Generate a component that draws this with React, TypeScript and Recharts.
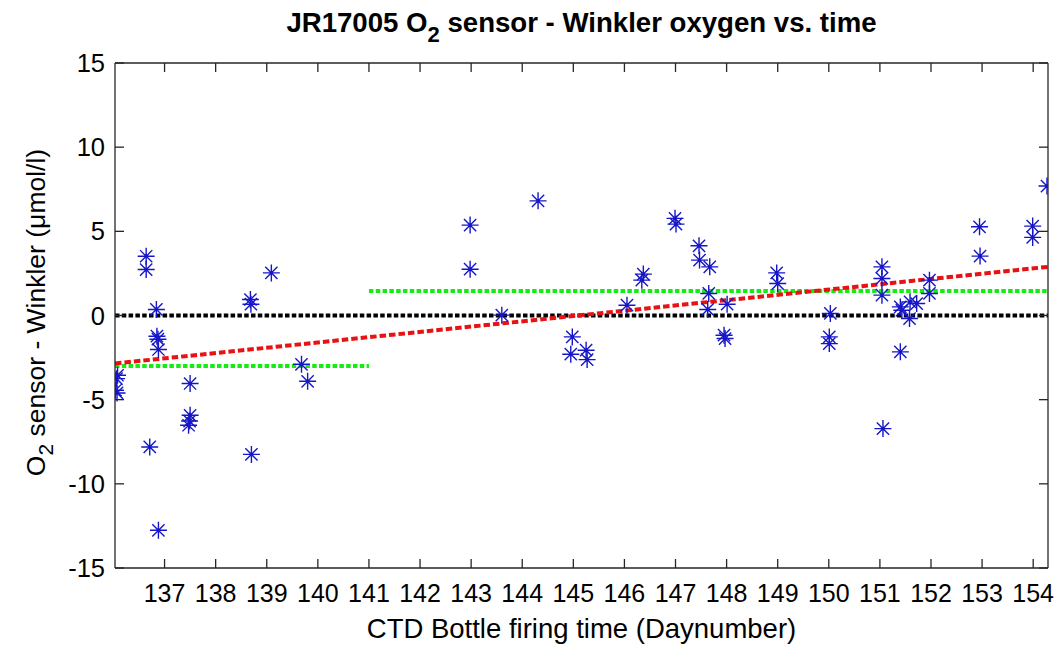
import React from "react";
import {
  ComposedChart,
  Scatter,
  XAxis,
  YAxis,
  ReferenceLine,
} from "recharts";

// Bottle firing time (day number) for each CTD sample
const sampleDay = [
  136.04, 136.07, 136.08, 136.06, 136.64, 136.64, 136.71, 136.84, 136.85, 136.87,
  136.88, 136.88, 137.5, 137.5, 137.49, 137.47, 138.68, 138.69, 138.7, 139.09,
  139.68, 139.8, 142.98, 142.98, 143.6, 144.31, 144.98, 144.95, 145.25, 145.27,
  146.05, 146.37, 146.34, 146.99, 147.01, 147.46, 147.47, 147.67, 147.65, 147.63,
  148.01, 147.95, 147.97, 148.98, 149.0, 150.03, 150.01, 150.01, 151.04, 151.04,
  151.04, 151.06, 151.4, 151.4, 151.43, 151.59, 151.58, 151.72, 151.97, 151.97,
  152.95, 152.96, 153.99, 153.99, 154.27,
];

// O2 sensor minus Winkler oxygen (umol/l)
const sensorMinusWinkler = [
  -4.44, -4.6, -3.55, -3.75, 3.52, 2.73, -7.81, 0.36, -1.23, -1.41,
  -2.02, -12.76, -4.04, -5.93, -6.27, -6.52, 0.95, 0.67, -8.25, 2.53,
  -2.9, -3.91, 5.37, 2.75, 0.02, 6.81, -1.27, -2.3, -2.06, -2.62,
  0.61, 2.46, 2.1, 5.77, 5.43, 4.14, 3.29, 2.89, 1.31, 0.36,
  0.67, -1.17, -1.37, 2.53, 1.9, 0.12, -1.27, -1.67, 2.89, 2.2,
  1.21, -6.72, -2.16, 0.51, 0.31, 0.81, -0.18, 0.71, 2.1, 1.31,
  5.27, 3.53, 5.31, 4.64, 7.69,
];

const dayTicks = [137, 138, 139, 140, 141, 142, 143, 144, 145, 146, 147, 148, 149, 150, 151, 152, 153, 154];
const diffTicks = [-15, -10, -5, 0, 5, 10, 15];

const dayRange: [number, number] = [136.03, 154.29];
const diffRange: [number, number] = [-15, 15];

// Mean offset before and after day 141
const periodBreak = 141;
const meanBefore = -3.0;
const meanAfter = 1.46;

// Linear drift fit across the cruise
const trendStart = -2.85;
const trendEnd = 2.89;

const samples = sampleDay.map((day, i) => ({ day, diff: sensorMinusWinkler[i] }));

const FONT = '"Liberation Sans", Arial, Helvetica, sans-serif';
const AXIS_COLOR = "#262626";
const STAR_COLOR = "#1616c8";

const Asterisk = (props: any) => {
  const { cx, cy } = props;
  if (cx == null || cy == null) return null;
  const r = 8.5;
  const d = r * 0.72;
  const path =
    `M${cx - r},${cy}H${cx + r}` +
    `M${cx},${cy - r}V${cy + r}` +
    `M${cx - d},${cy - d}L${cx + d},${cy + d}` +
    `M${cx - d},${cy + d}L${cx + d},${cy - d}`;
  return <path d={path} stroke={STAR_COLOR} strokeWidth={1.4} fill="none" />;
};

// Tick renderer that draws no label, so only the tick line shows
const NoLabel = () => <g />;

const TitleText = (props: any) => {
  const vb = props.viewBox || {};
  const cx = vb.x + vb.width / 2;
  return (
    <text
      x={cx}
      y={32}
      textAnchor="middle"
      fontFamily={FONT}
      fontWeight="bold"
      fontSize={27.6}
      fill="#000"
      style={{ whiteSpace: "pre" }}
    >
      <tspan>JR17005 O</tspan>
      <tspan dy={10} fontSize={22}>2</tspan>
      <tspan dy={-10}> sensor - Winkler oxygen vs. time</tspan>
    </text>
  );
};

const XTitle = (props: any) => {
  const vb = props.viewBox || {};
  return (
    <text
      x={vb.x + vb.width / 2}
      y={vb.y + 70}
      textAnchor="middle"
      fontFamily={FONT}
      fontSize={27.5}
      fill="#000"
    >
      CTD Bottle firing time (Daynumber)
    </text>
  );
};

const YTitle = (props: any) => {
  const vb = props.viewBox || {};
  const x = 45;
  const y = vb.y + vb.height / 2 - 3;
  return (
    <text
      x={x}
      y={y}
      transform={`rotate(-90, ${x}, ${y})`}
      textAnchor="middle"
      fontFamily={FONT}
      fontSize={26.5}
      fill="#000"
      style={{ whiteSpace: "pre" }}
    >
      <tspan>O</tspan>
      <tspan dy={8} fontSize={21}>2</tspan>
      <tspan dy={-8}> sensor - Winkler (μmol/l)</tspan>
    </text>
  );
};

const tickStroke = { stroke: AXIS_COLOR, strokeWidth: 1.3 };

export default function App() {
  return (
    <div style={{ position: "absolute", left: 0, top: 0, width: 1059, height: 648, background: "#fff" }}>
      <ComposedChart
        width={1059}
        height={648}
        data={samples}
        margin={{ top: 63, right: 11, bottom: 0, left: 0 }}
      >
        {/* bottom axis: labels */}
        <XAxis
          xAxisId="b"
          type="number"
          dataKey="day"
          domain={dayRange}
          ticks={dayTicks}
          allowDataOverflow
          height={80}
          tickLine={false}
          tickSize={0}
          tickMargin={16}
          axisLine={tickStroke}
          tick={{ fontSize: 25, fill: "#000", fontFamily: FONT }}
          interval={0}
          label={<XTitle />}
        />
        {/* bottom axis: inward tick marks */}
        <XAxis
          xAxisId="bm"
          type="number"
          dataKey="day"
          domain={dayRange}
          ticks={dayTicks}
          allowDataOverflow
          orientation="bottom"
          mirror
          height={1}
          tick={<NoLabel />}
          tickSize={9}
          tickLine={tickStroke}
          axisLine={false}
          interval={0}
        />
        {/* top box edge with inward ticks and the title */}
        <XAxis
          xAxisId="t"
          type="number"
          dataKey="day"
          domain={dayRange}
          ticks={dayTicks}
          allowDataOverflow
          orientation="top"
          mirror
          height={1}
          tick={<NoLabel />}
          tickSize={9}
          tickLine={tickStroke}
          axisLine={tickStroke}
          interval={0}
          label={<TitleText />}
        />
        {/* left axis: labels */}
        <YAxis
          yAxisId="l"
          type="number"
          dataKey="diff"
          domain={diffRange}
          ticks={diffTicks}
          allowDataOverflow
          width={115}
          tickLine={false}
          tickSize={0}
          tickMargin={10}
          axisLine={tickStroke}
          tick={{ fontSize: 25.5, fill: "#000", fontFamily: FONT }}
          interval={0}
          label={<YTitle />}
        />
        {/* left axis: inward tick marks */}
        <YAxis
          yAxisId="lm"
          type="number"
          dataKey="diff"
          domain={diffRange}
          ticks={diffTicks}
          allowDataOverflow
          orientation="left"
          mirror
          width={1}
          tick={<NoLabel />}
          tickSize={9}
          tickLine={tickStroke}
          axisLine={false}
          interval={0}
        />
        {/* right box edge with inward ticks */}
        <YAxis
          yAxisId="r"
          type="number"
          dataKey="diff"
          domain={diffRange}
          ticks={diffTicks}
          allowDataOverflow
          orientation="right"
          mirror
          width={1}
          tick={<NoLabel />}
          tickSize={9}
          tickLine={tickStroke}
          axisLine={tickStroke}
          interval={0}
        />

        <ReferenceLine
          xAxisId="b"
          yAxisId="l"
          y={0}
          stroke="#000"
          strokeWidth={4}
          strokeDasharray="4.5 2.3"
        />
        <ReferenceLine
          xAxisId="b"
          yAxisId="l"
          segment={[
            { x: dayRange[0], y: meanBefore },
            { x: periodBreak, y: meanBefore },
          ]}
          stroke="#14ec14"
          strokeWidth={4}
          strokeDasharray="4.5 2.3"
        />
        <ReferenceLine
          xAxisId="b"
          yAxisId="l"
          segment={[
            { x: periodBreak, y: meanAfter },
            { x: dayRange[1], y: meanAfter },
          ]}
          stroke="#14ec14"
          strokeWidth={4}
          strokeDasharray="4.5 2.3"
        />
        <ReferenceLine
          xAxisId="b"
          yAxisId="l"
          segment={[
            { x: dayRange[0], y: trendStart },
            { x: dayRange[1], y: trendEnd },
          ]}
          stroke="#e81212"
          strokeWidth={4}
          strokeDasharray="6.5 3"
        />

        <Scatter
          xAxisId="b"
          yAxisId="l"
          data={samples}
          dataKey="diff"
          shape={<Asterisk />}
          isAnimationActive={false}
        />
      </ComposedChart>
    </div>
  );
}
